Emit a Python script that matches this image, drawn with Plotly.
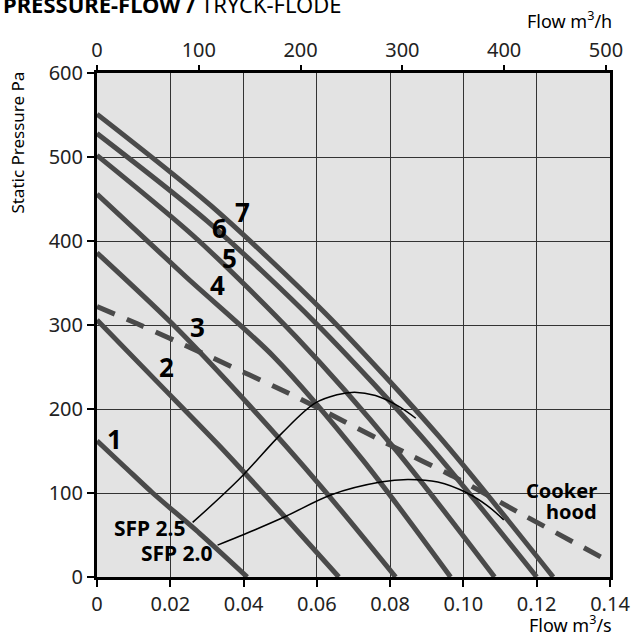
import plotly.graph_objects as go

# fan curves 1-7 (flow m3/s, static pressure Pa)
curve_flow = {
    "1": [0, 0.0076, 0.0152, 0.028, 0.041],
    "2": [0, 0.0165, 0.033, 0.0495, 0.066],
    "3": [0, 0.0204, 0.0408, 0.0611, 0.0815],
    "4": [0, 0.0241, 0.0483, 0.0724, 0.0965],
    "5": [0, 0.0271, 0.0543, 0.0814, 0.1085],
    "6": [0, 0.030, 0.060, 0.090, 0.120],
    "7": [0, 0.0311, 0.0623, 0.0934, 0.1245],
}
curve_pa = {
    "1": [162, 131, 100, 52, 0],
    "2": [306, 232, 158, 80, 0],
    "3": [386, 302, 208, 108, 0],
    "4": [456, 358, 262, 140, 0],
    "5": [502, 403, 286, 152, 0],
    "6": [528, 424, 301, 160, 0],
    "7": [551, 442, 314, 167, 0],
}

# cooker hood (dashed)
hood_flow = [0, 0.0107, 0.028, 0.055, 0.080, 0.098, 0.115, 0.140]
hood_pa = [322, 302, 268, 213, 157, 118, 77, 18]

# SFP lines (thin)
sfp25_flow = [0.0261, 0.0387, 0.0504, 0.0595, 0.0655, 0.0703, 0.076, 0.082, 0.087]
sfp25_pa = [65, 116, 171, 207, 217, 220, 216, 204, 189]
sfp20_flow = [0.0329, 0.043, 0.0514, 0.064, 0.0774, 0.0848, 0.093, 0.101, 0.1065, 0.111]
sfp20_pa = [38, 56, 72, 98, 113, 116, 113, 100, 85, 68]

# curve number labels
label_names = ["1", "2", "3", "4", "5", "6", "7"]
label_flow = [0.0049, 0.0190, 0.0275, 0.0328, 0.0362, 0.0333, 0.0396]
label_pa = [164, 250, 298, 348, 380, 415, 435]

xticks = [0, 0.02, 0.04, 0.06, 0.08, 0.10, 0.12, 0.14]
xticktext = ["0", "0.02", "0.04", "0.06", "0.08", "0.10", "0.12", "0.14"]
top_ticks = [0, 100, 200, 300, 400, 500]

FONT = "Noto Sans"
CURVE = "#4a4a4a"

fig = go.Figure()

for k in curve_flow:
    fig.add_trace(go.Scatter(x=curve_flow[k], y=curve_pa[k], mode="lines",
                             line=dict(color=CURVE, width=5, shape="spline", smoothing=0.8),
                             showlegend=False, hoverinfo="skip"))

fig.add_trace(go.Scatter(x=hood_flow, y=hood_pa, mode="lines",
                         line=dict(color=CURVE, width=5, dash="19px,13px", shape="spline", smoothing=0.6),
                         showlegend=False, hoverinfo="skip"))

fig.add_trace(go.Scatter(x=sfp25_flow, y=sfp25_pa, mode="lines",
                         line=dict(color="black", width=1.5, shape="spline"),
                         showlegend=False, hoverinfo="skip"))
fig.add_trace(go.Scatter(x=sfp20_flow, y=sfp20_pa, mode="lines",
                         line=dict(color="black", width=1.5, shape="spline"),
                         showlegend=False, hoverinfo="skip"))

# invisible trace so the m3/h axis is drawn on top
fig.add_trace(go.Scatter(x=[0, 504], y=[0, 0], xaxis="x2", mode="markers",
                         marker=dict(opacity=0), showlegend=False, hoverinfo="skip"))

for name, x, y in zip(label_names, label_flow, label_pa):
    fig.add_annotation(x=x, y=y, text="<b>%s</b>" % name, showarrow=False,
                       xanchor="center", yanchor="middle",
                       font=dict(family=FONT, size=26, color="black"))

fig.add_annotation(x=0.0144, y=58, text="<b>SFP 2.5</b>", showarrow=False,
                   xanchor="center", yanchor="middle",
                   font=dict(family=FONT, size=21, color="black"))
fig.add_annotation(x=0.0219, y=29, text="<b>SFP 2.0</b>", showarrow=False,
                   xanchor="center", yanchor="middle",
                   font=dict(family=FONT, size=21, color="black"))
fig.add_annotation(x=0.137, y=103, text="<b>Cooker</b>", showarrow=False,
                   xanchor="right", yanchor="middle",
                   font=dict(family=FONT, size=20, color="black"))
fig.add_annotation(x=0.137, y=78, text="<b>hood</b>", showarrow=False,
                   xanchor="right", yanchor="middle",
                   font=dict(family=FONT, size=20, color="black"))

# title and axis names (positions in paper units of the 517x504 plot area)
fig.add_annotation(xref="paper", yref="paper", x=-97 / 517, y=1 + 69 / 504,
                   xanchor="left", yanchor="middle", showarrow=False,
                   text="<b>PRESSURE-FLOW /</b> TRYCK-FLÖDE",
                   font=dict(family=FONT, size=22, color="black"))
fig.add_annotation(xref="paper", yref="paper", x=(17 - 97) / 517, y=(577 - 143) / 504,
                   xanchor="center", yanchor="middle",
                   textangle=-90, showarrow=False, text="Static Pressure Pa",
                   font=dict(family=FONT, size=17, color="black"))
fig.add_annotation(xref="paper", yref="paper", x=(618 - 97) / 517, y=(577 - 20) / 504,
                   xanchor="right", yanchor="middle", showarrow=False,
                   text="Flow m<sup>3</sup>/h",
                   font=dict(family=FONT, size=18, color="black"))
fig.add_annotation(xref="paper", yref="paper", x=(618 - 97) / 517, y=(577 - 624) / 504,
                   xanchor="right", yanchor="middle", showarrow=False,
                   text="Flow m<sup>3</sup>/s",
                   font=dict(family=FONT, size=18, color="black"))

axis_common = dict(ticks="outside", ticklen=7, tickwidth=2, tickcolor="black",
                   showline=True, linewidth=3, linecolor="black", mirror=True,
                   showgrid=True, gridcolor="#333333", gridwidth=1, zeroline=False,
                   tickfont=dict(family=FONT, size=20, color="#222"))

fig.update_layout(
    width=642, height=635,
    margin=dict(l=97, r=28, t=73, b=58),
    paper_bgcolor="white",
    plot_bgcolor="#e3e3e3",
    font=dict(family=FONT, color="black"),
    xaxis=dict(range=[0, 0.14], tickvals=xticks, ticktext=xticktext, **axis_common),
    yaxis=dict(range=[0, 600], dtick=100, **axis_common),
    xaxis2=dict(range=[0, 504], overlaying="x", side="top", tickvals=top_ticks,
                ticks="outside", ticklen=7, tickwidth=2, tickcolor="black",
                showgrid=False, zeroline=False, showline=False,
                tickfont=dict(family=FONT, size=20, color="#222")),
)

fig.write_html("out.html", config={"displayModeBar": False},
               post_script="document.body.style.margin='0';")
